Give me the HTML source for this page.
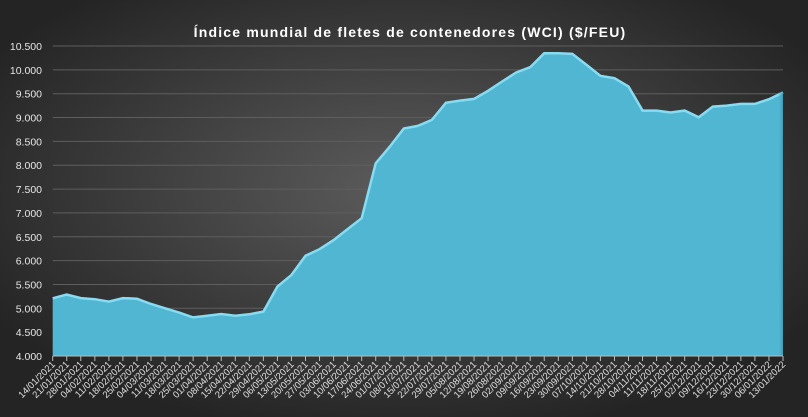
<!DOCTYPE html>
<html><head><meta charset="utf-8"><style>
html,body{margin:0;padding:0;width:808px;height:417px;overflow:hidden;background:#2a2a2a}
svg{display:block}
</style></head><body>
<svg id="c" width="808" height="417" xmlns="http://www.w3.org/2000/svg" font-family="Liberation Sans, sans-serif">
<defs>
<radialGradient id="bg" cx="50%" cy="45%" r="60%">
<stop offset="0" stop-color="#5c5c5c"/><stop offset="1" stop-color="#242424"/>
</radialGradient>
<linearGradient id="side" x1="0" x2="1"><stop offset="0" stop-color="#51b6d1" stop-opacity="0"/><stop offset="1" stop-color="#3f97b0"/></linearGradient>
</defs>
<rect width="808" height="417" fill="url(#bg)"/>
<text x="410" y="37" fill="#fff" font-size="14" font-weight="bold" text-anchor="middle" letter-spacing="1.2">Índice mundial de fletes de contenedores (WCI) ($/FEU)</text>
<g id="grid"></g>
<g id="area"></g>
<g id="lab"></g>
</svg>
<script>
var v=[5210,5290,5215,5190,5140,5215,5200,5090,5000,4910,4810,4845,4880,4845,4875,4930,5455,5700,6100,6240,6430,6660,6890,8040,8390,8770,8825,8950,9310,9355,9390,9560,9755,9945,10055,10350,10350,10335,10105,9875,9825,9650,9145,9145,9105,9145,9005,9230,9250,9285,9285,9385,9525];
var d=["14/01/2021","21/01/2021","28/01/2021","04/02/2021","11/02/2021","18/02/2021","25/02/2021","04/03/2021","11/03/2021","18/03/2021","25/03/2021","01/04/2021","08/04/2021","15/04/2021","22/04/2021","29/04/2021","06/05/2021","13/05/2021","20/05/2021","27/05/2021","03/06/2021","10/06/2021","17/06/2021","24/06/2021","01/07/2021","08/07/2021","15/07/2021","22/07/2021","29/07/2021","05/08/2021","12/08/2021","19/08/2021","26/08/2021","02/09/2021","09/09/2021","16/09/2021","23/09/2021","30/09/2021","07/10/2021","14/10/2021","21/10/2021","28/10/2021","04/11/2021","11/11/2021","18/11/2021","25/11/2021","02/12/2021","09/12/2021","16/12/2021","23/12/2021","30/12/2021","06/01/2022","13/01/2022"];
var x0=52.7,x1=783,yT=46,yB=356;
function X(i){return x0+(x1-x0)*i/52}
function Y(val){return yB-(val-4000)/6500*(yB-yT)}
var g=document.getElementById('grid'),h='';
for(var k=0;k<=13;k++){var val=4000+500*k,y=Y(val);
 var s=String(val);s=s.slice(0,s.length-3)+'.'+s.slice(-3);
 if(k>0)h+='<line x1="'+x0+'" x2="'+x1+'" y1="'+y+'" y2="'+y+'" stroke="#5e5e5e" stroke-width="1"/>';
 h+='<text x="42" y="'+(y+4)+'" fill="#e6e6e6" font-size="10.5" text-anchor="end">'+s+'</text>';}
g.innerHTML=h;
var p='M'+x0+','+yB,l='';
for(var i=0;i<v.length;i++){p+=' L'+X(i).toFixed(1)+','+Y(v[i]).toFixed(1);l+=(i?' L':'M')+X(i).toFixed(1)+','+Y(v[i]).toFixed(1);}
p+=' L'+x1+','+yB+' Z';
document.getElementById('area').innerHTML='<path d="'+p+'" fill="#51b6d1"/><path d="'+l+'" fill="none" stroke="#86dcf2" stroke-width="2.5"/><rect x="'+(x1-5)+'" y="'+Y(9525)+'" width="5" height="'+(yB-Y(9525))+'" fill="url(#side)"/><line x1="'+x0+'" x2="'+x1+'" y1="'+yB+'" y2="'+yB+'" stroke="#bbb"/>';
var lb='';
for(var i=0;i<53;i++){var x=X(i);
 lb+='<line x1="'+x+'" x2="'+x+'" y1="'+yB+'" y2="'+(yB+5)+'" stroke="#bbb"/>';
 lb+='<text transform="translate('+(x+3)+','+(yB+9)+') rotate(-45)" fill="#e0e0e0" font-size="9.5" text-anchor="end">'+d[i]+'</text>';}
document.getElementById('lab').innerHTML=lb;
</script>
</body></html>
